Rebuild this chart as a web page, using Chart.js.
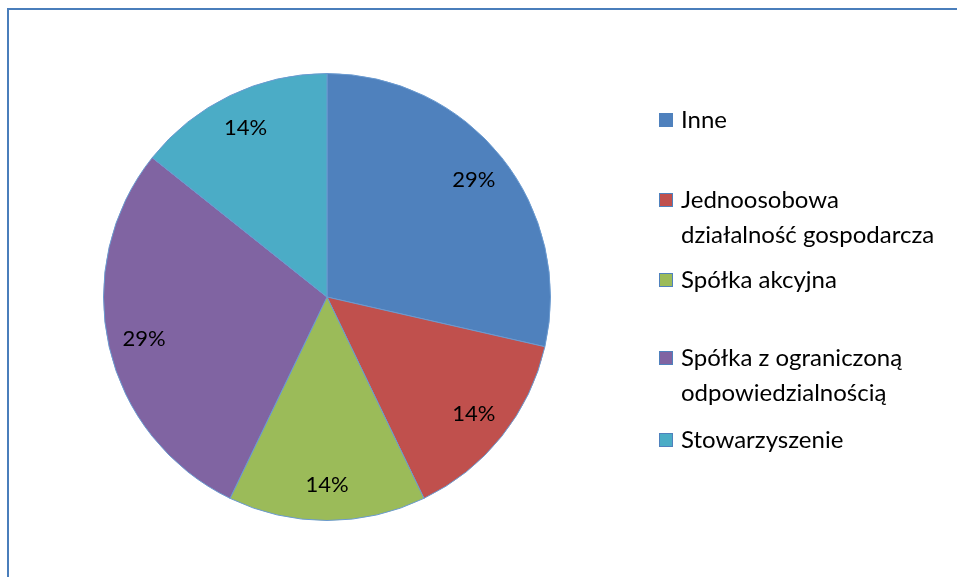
<!DOCTYPE html>
<html>
<head>
<meta charset="utf-8">
<script src="https://cdn.jsdelivr.net/npm/chart.js@4"></script>
<style>
  html, body { margin: 0; padding: 0; background: #fff; overflow: hidden; }
  #wrap { width: 957px; height: 577px; position: relative; }
</style>
</head>
<body>
<div id="wrap"><canvas id="myChart" width="957" height="577"></canvas></div>
<script>
var labels = ['Inne', 'Jednoosobowa działalność gospodarcza', 'Spółka akcyjna', 'Spółka z ograniczoną odpowiedzialnością', 'Stowarzyszenie'];
var legendLines = [['Inne'], ['Jednoosobowa', 'działalność gospodarcza'], ['Spółka akcyjna'], ['Spółka z ograniczoną', 'odpowiedzialnością'], ['Stowarzyszenie']];
var counts = [2, 1, 1, 2, 1];
var colors = ['#4F81BD', '#C0504D', '#9BBB59', '#8064A2', '#4BACC6'];

var LABEL_FONT = '22px Lato, "Open Sans", sans-serif';
var LEGEND_FONT = '24px Lato, "Open Sans", sans-serif';

// frame + percent labels + legend, excel style
var excelBits = {
    id: 'excelBits',
    beforeDraw: function(chart) {
        var ctx = chart.ctx;
        ctx.save();
        ctx.strokeStyle = '#4A7EBB';
        ctx.lineWidth = 2;
        ctx.strokeRect(8, 9, 2000, 2000);
        ctx.restore();
    },
    afterDatasetsDraw: function(chart) {
        var ctx = chart.ctx;
        var meta = chart.getDatasetMeta(0);
        var total = counts.reduce(function(a, b) { return a + b; }, 0);
        ctx.save();
        ctx.font = LABEL_FONT;
        ctx.fillStyle = '#000';
        ctx.textAlign = 'center';
        ctx.textBaseline = 'middle';
        meta.data.forEach(function(arc, i) {
            var mid = (arc.startAngle + arc.endAngle) / 2;
            var r = arc.outerRadius * 0.84;
            var x = arc.x + Math.cos(mid) * r;
            var y = arc.y + Math.sin(mid) * r;
            ctx.fillText(Math.round(counts[i] / total * 100) + '%', x, y);
        });

        // legend
        var lx = 659, tx = 681;
        var ys = [120, 200, 280, 358, 440];
        ctx.font = LEGEND_FONT;
        ctx.textAlign = 'left';
        legendLines.forEach(function(lines, i) {
            ctx.fillStyle = colors[i];
            ctx.fillRect(lx, ys[i] - 7, 14, 14);
            ctx.strokeStyle = '#4F81BD';
            ctx.lineWidth = 1;
            ctx.strokeRect(lx + 0.5, ys[i] - 6.5, 13, 13);
            ctx.fillStyle = '#000';
            lines.forEach(function(t, j) {
                ctx.fillText(t, tx, ys[i] + j * 35);
            });
        });
        ctx.restore();
    }
};

var ctx = document.getElementById('myChart');
var myChart = new Chart(ctx, {
    type: 'pie',
    data: {
        labels: labels,
        datasets: [{
            data: counts,
            backgroundColor: colors,
            borderColor: '#6A9AD0',
            borderWidth: 1
        }]
    },
    options: {
        responsive: false,
        animation: false,
        layout: { padding: { left: 103, right: 406, top: 73, bottom: 56 } },
        plugins: {
            legend: { display: false },
            tooltip: { enabled: false }
        }
    },
    plugins: [excelBits]
});
</script>
</body>
</html>
